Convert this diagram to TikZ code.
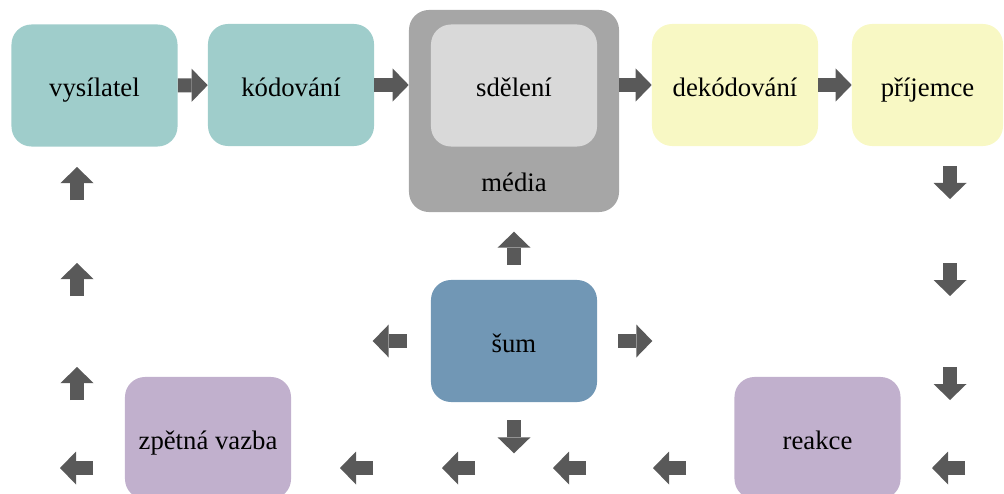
\documentclass[tikz,border=0pt]{standalone}
\usepackage{fontspec}
\setmainfont{Liberation Serif}
\usetikzlibrary{arrows.meta,positioning}

\definecolor{tealbox}{HTML}{9FCDCB}
\definecolor{yellowbox}{HTML}{F8F8C4}
\definecolor{mediagray}{HTML}{A6A6A6}
\definecolor{msggray}{HTML}{D9D9D9}
\definecolor{noiseblue}{HTML}{7197B5}
\definecolor{lilac}{HTML}{C1B0CD}
\definecolor{arrowgray}{HTML}{595959}

\begin{document}
\begin{tikzpicture}[
	x=0.025cm,y=-0.025cm,
	txt/.style={font=\fontsize{19}{23}\selectfont,text height=0.55cm,text depth=0pt},
	box/.style={txt,rounded corners=0.5cm,minimum width=4.15cm,minimum height=3.05cm,
		inner sep=0pt},
	blk/.style={draw=arrowgray,line width=0.35cm,
		-{Triangle[length=0.4cm,width=0.825cm,line width=0pt]}}]
\clip (0,0) rectangle (1004,493);
\useasboundingbox (0,0) rectangle (1004,493);

% top row
\node[box,fill=tealbox] (vys) at (94.5,85.5) {vysílatel};
\node[box,fill=tealbox] (kod) at (291,85) {kódování};
\node[box,fill=mediagray,minimum width=5.25cm,minimum height=5.05cm] (media) at (514,111) {};
\node[box,fill=msggray] (sdel) at (514,85.5) {sdělení};
\node[txt,inner sep=0pt] (medlbl) at (514,180) {média};
\node[box,fill=yellowbox] (dek) at (735,85) {dekódování};
\node[box,fill=yellowbox,minimum width=3.775cm] (pri) at (927.5,85) {příjemce};

% noise and feedback
\node[box,fill=noiseblue] (sum) at (514,341) {šum};
\node[box,fill=lilac] (reak) at (817.5,438) {reakce};
\node[box,fill=lilac] (zpet) at (208,438) {zpětná vazba};

\draw[blk] (vys) -- (kod);
\draw[blk] (kod) -- (kod -| media.west);
\draw[blk] (media.east |- dek) -- (dek);
\draw[blk] (dek) -- (pri);

\draw[blk,shorten <=0.375cm] (sum.north) -- ++(0,-48);
\draw[blk,shorten <=0.6cm] (sum.west) -- ++(-58,0);
\draw[blk,shorten <=0.525cm] (sum.east) -- ++(55,0);
\draw[blk,shorten <=0.45cm] (sum.south) -- ++(0,51);

% loop back to the sender
\foreach \y in {166,263,367}
	\draw[blk] (950,\y) -- ++(0,33);
\foreach \x in {932,653,553,442,340,60}
	\draw[blk] (\x+33,468) -- ++(-33,0);
\foreach \y in {167,263,367}
	\draw[blk] (77,\y+33) -- ++(0,-33);

\end{tikzpicture}
\end{document}
